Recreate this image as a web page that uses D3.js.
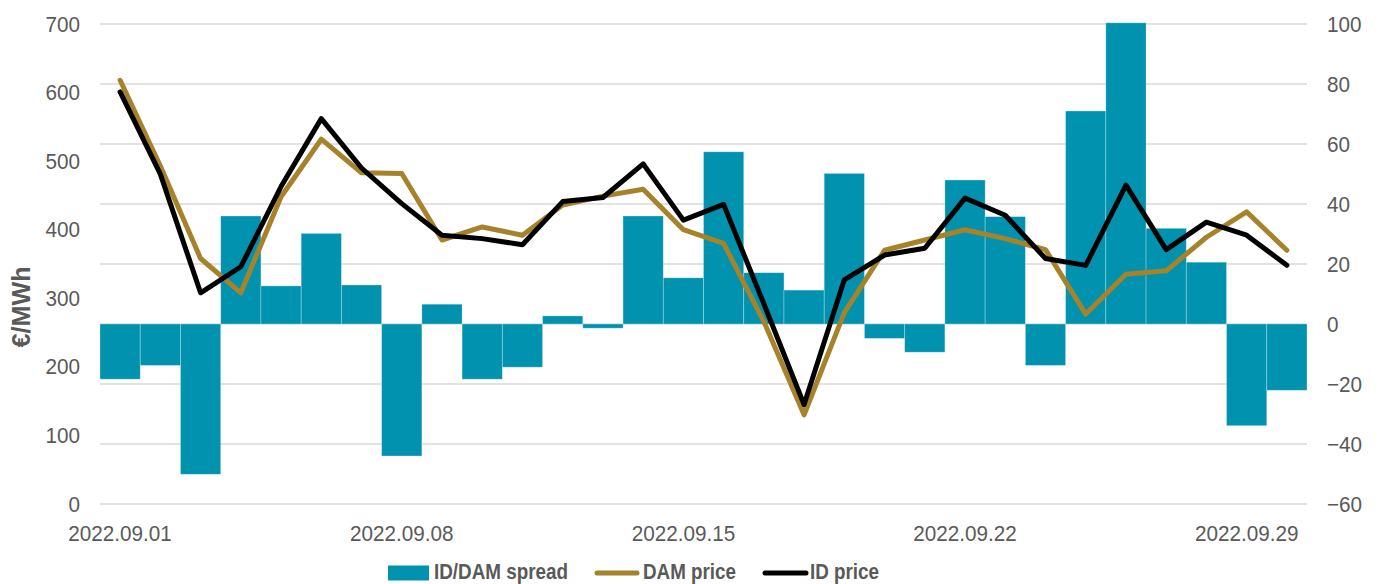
<!DOCTYPE html>
<html>
<head>
<meta charset="utf-8">
<script src="https://cdn.jsdelivr.net/npm/d3@7"></script>
<style>
  body { margin: 0; background: #fff; }
  svg { font-family: "Liberation Sans", Arial, sans-serif; }
</style>
</head>
<body>
<svg id="chart" width="1380" height="584"></svg>
<script>
const days = ['2022.09.01','2022.09.02','2022.09.03','2022.09.04','2022.09.05','2022.09.06','2022.09.07',
  '2022.09.08','2022.09.09','2022.09.10','2022.09.11','2022.09.12','2022.09.13','2022.09.14',
  '2022.09.15','2022.09.16','2022.09.17','2022.09.18','2022.09.19','2022.09.20','2022.09.21',
  '2022.09.22','2022.09.23','2022.09.24','2022.09.25','2022.09.26','2022.09.27','2022.09.28',
  '2022.09.29','2022.09.30'];
// ID/DAM spread (right axis)
const spread = [-18.4, -13.8, -50.1, 36, 12.7, 30.2, 13, -44, 6.6, -18.4, -14.4, 2.7, -1.4, 36,
  15.4, 57.4, 17.1, 11.3, 50.2, -4.8, -9.4, 48, 35.8, -13.8, 71, 100.4, 31.9, 20.6, -33.9, -22.1];
// DAM price (left axis)
const damPrice = [618, 493, 358, 308, 448, 532, 483, 482, 385, 404, 392, 436, 449, 459,
  400, 380, 266, 130, 279, 370, 385, 400, 387, 371, 277, 335, 340, 389, 426, 370];
// ID price (left axis)
const idPrice = [601, 481, 308, 346, 463, 562, 490, 438, 392, 387, 378, 441, 447, 496,
  414, 437, 292, 145, 327, 363, 373, 446, 421, 358, 348, 465, 371, 411, 392, 348];
const leftTicks = [0, 100, 200, 300, 400, 500, 600, 700];
const rightTicks = [-60, -40, -20, 0, 20, 40, 60, 80, 100];

const plotLeft = 100, plotRight = 1307, plotTop = 24, plotBottom = 504;
const textColor = '#595959';

const svg = d3.select('#chart');

const x = d3.scaleBand().domain(days).range([plotLeft, plotRight]).padding(0);
const yL = d3.scaleLinear().domain([0, 700]).range([plotBottom, plotTop]);
const yR = d3.scaleLinear().domain([-60, 100]).range([plotBottom, plotTop]);

// squeeze text a bit horizontally (reference text is tall and narrow)
function squeeze(sel, k) {
  sel.each(function() {
    const w = this.getComputedTextLength();
    d3.select(this).attr('textLength', w * k).attr('lengthAdjust', 'spacingAndGlyphs');
  });
}

// gridlines (follow right axis)
svg.append('g')
  .selectAll('line')
  .data(rightTicks)
  .enter().append('line')
  .attr('x1', plotLeft).attr('x2', plotRight)
  .attr('y1', d => yR(d)).attr('y2', d => yR(d))
  .attr('stroke', '#d9d9d9')
  .attr('stroke-width', 1.3);

// spread bars
svg.append('g')
  .selectAll('rect')
  .data(spread)
  .enter().append('rect')
  .attr('x', (d, i) => x(days[i]))
  .attr('width', x.bandwidth())
  .attr('y', d => yR(Math.max(0, d)))
  .attr('height', d => Math.abs(yR(d) - yR(0)))
  .attr('fill', '#0092ae')
  .attr('stroke', '#ffffff')
  .attr('stroke-opacity', 0.35)
  .attr('stroke-width', 0.8);

// price lines
const line = d3.line()
  .x((d, i) => x(days[i]) + x.bandwidth() / 2)
  .y(d => yL(d));

svg.append('path')
  .datum(damPrice)
  .attr('d', line)
  .attr('fill', 'none')
  .attr('stroke', '#a6822a')
  .attr('stroke-width', 5)
  .attr('stroke-linejoin', 'round')
  .attr('stroke-linecap', 'round');

svg.append('path')
  .datum(idPrice)
  .attr('d', line)
  .attr('fill', 'none')
  .attr('stroke', '#000000')
  .attr('stroke-width', 5)
  .attr('stroke-linejoin', 'round')
  .attr('stroke-linecap', 'round');

// left axis
const axL = svg.append('g')
  .attr('transform', 'translate(' + (plotLeft - 20) + ',0)')
  .call(d3.axisLeft(yL).tickValues(leftTicks).tickSize(0).tickPadding(0));
axL.select('.domain').remove();
axL.selectAll('text')
  .style('font-size', '22px')
  .style('fill', textColor)
  .attr('font-family', null)
  .call(squeeze, 0.94);

// right axis
const axR = svg.append('g')
  .attr('transform', 'translate(' + (plotRight + 20) + ',0)')
  .call(d3.axisRight(yR).tickValues(rightTicks).tickSize(0).tickPadding(0));
axR.select('.domain').remove();
axR.selectAll('text')
  .style('font-size', '22px')
  .style('fill', textColor)
  .attr('font-family', null)
  .call(squeeze, 0.94);

// bottom axis
const axB = svg.append('g')
  .attr('transform', 'translate(0,' + (plotBottom + 19) + ')')
  .call(d3.axisBottom(x).tickValues(days.filter((d, i) => i % 7 === 0)).tickSize(0).tickPadding(0));
axB.select('.domain').remove();
axB.selectAll('text')
  .style('font-size', '22px')
  .style('fill', textColor)
  .attr('font-family', null)
  .attr('dy', '0.8em')
  .call(squeeze, 0.94);

// y axis title
svg.append('text')
  .attr('transform', 'translate(29.5,307) rotate(-90)')
  .attr('text-anchor', 'middle')
  .attr('textLength', 81)
  .attr('lengthAdjust', 'spacingAndGlyphs')
  .style('font-size', '25px')
  .style('font-weight', 'bold')
  .style('fill', textColor)
  .text('€/MWh');

// legend
const legend = svg.append('g').attr('transform', 'translate(0,573)');
legend.append('rect')
  .attr('x', 388).attr('y', -7.5).attr('width', 41).attr('height', 15)
  .attr('fill', '#0092ae');
legend.append('text')
  .attr('x', 434).attr('y', 5.5)
  .attr('textLength', 134).attr('lengthAdjust', 'spacingAndGlyphs')
  .style('font-size', '22px').style('font-weight', 'bold').style('fill', textColor)
  .text('ID/DAM spread');
legend.append('line')
  .attr('x1', 597).attr('x2', 637).attr('y1', 0).attr('y2', 0)
  .attr('stroke', '#a6822a').attr('stroke-width', 5).attr('stroke-linecap', 'round');
legend.append('text')
  .attr('x', 643).attr('y', 5.5)
  .attr('textLength', 93).attr('lengthAdjust', 'spacingAndGlyphs')
  .style('font-size', '22px').style('font-weight', 'bold').style('fill', textColor)
  .text('DAM price');
legend.append('line')
  .attr('x1', 765).attr('x2', 806).attr('y1', 0).attr('y2', 0)
  .attr('stroke', '#000').attr('stroke-width', 5).attr('stroke-linecap', 'round');
legend.append('text')
  .attr('x', 810).attr('y', 5.5)
  .attr('textLength', 69).attr('lengthAdjust', 'spacingAndGlyphs')
  .style('font-size', '22px').style('font-weight', 'bold').style('fill', textColor)
  .text('ID price');
</script>
</body>
</html>
